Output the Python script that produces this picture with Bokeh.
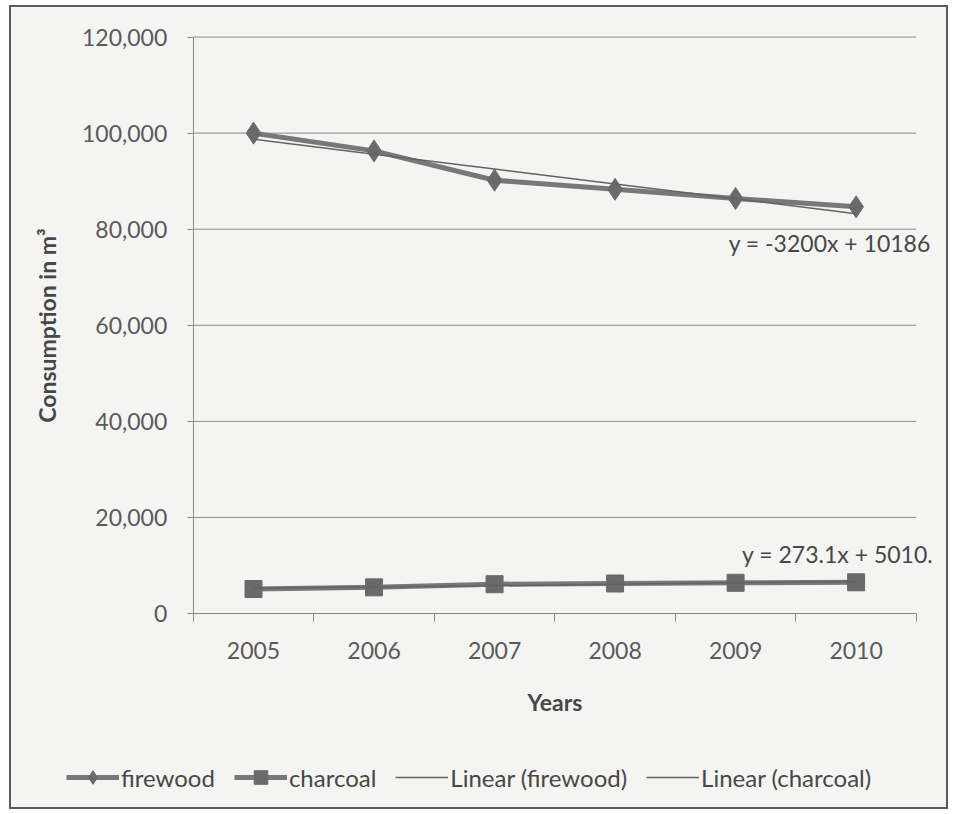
import numpy as np
from bokeh.plotting import figure
from bokeh.models import FixedTicker, Legend, LegendItem, Label, NumeralTickFormatter, Range1d
from bokeh.embed import file_html
from bokeh.resources import INLINE

years = ["2005", "2006", "2007", "2008", "2009", "2010"]
firewood = [100000, 96300, 90200, 88300, 86400, 84650]
charcoal = [5100, 5450, 6100, 6250, 6400, 6500]
trend_labels = ["y = -3200x + 10186", "y = 273.1x + 5010."]
legend_labels = ["firewood", "charcoal", "Linear (firewood)", "Linear (charcoal)"]
y_ticks = [0, 20000, 40000, 60000, 80000, 100000, 120000]

FONT = "Lato"
FS = "23px"
BG = "#f4f4f2"
LINE = "#787878"
MARK = "#6a6a6a"
TREND = "#636363"
TXT = "#474747"

xs = list(range(1, len(years) + 1))
x_lo, x_hi = 0.5, len(years) + 0.5

# Layout geometry (pixels inside the bordered figure)
W, H = 939, 804                 # outer size incl. 2px border
FRAME_W, FRAME_H = W - 4, H - 4
PX_X = 120.0                    # pixels per category
PX_Y = 4.78 / 1000              # pixels per m3
AXIS_X_PX = 181                 # y-axis position from frame left
AXIS_Y_PX = 603                 # y=0 position from frame top

x_start = x_lo - AXIS_X_PX / PX_X
x_end = x_start + FRAME_W / PX_X
y_end = AXIS_Y_PX / PX_Y
y_start = y_end - FRAME_H / PX_Y

p = figure(width=W, height=H, output_backend="svg", toolbar_location=None,
           x_range=Range1d(x_start, x_end), y_range=Range1d(y_start, y_end),
           min_border_left=0, min_border_right=0, min_border_top=0, min_border_bottom=0)
p.background_fill_color = BG
p.border_fill_color = BG
p.outline_line_color = None
p.styles = {"border": "2px solid #5a5a5a", "margin-left": "9px", "margin-top": "5px"}

# x axis (category style: labels at centers, ticks at boundaries)
p.xaxis.fixed_location = 0
p.xaxis.bounds = (x_lo, x_hi)
p.xaxis.ticker = FixedTicker(ticks=xs, minor_ticks=[x - 0.5 for x in xs] + [x_hi])
p.xaxis.major_label_overrides = {x: y for x, y in zip(xs, years)}
p.xaxis.major_tick_line_color = None
p.xaxis.major_tick_out = 0
p.xaxis.major_tick_in = 0
p.xaxis.minor_tick_out = 8
p.xaxis.minor_tick_in = 0
p.xaxis.minor_tick_line_color = "#888888"
p.xaxis.major_label_standoff = 20
p.xaxis.axis_label = "Years"
p.xaxis.axis_label_standoff = 26

p.yaxis.fixed_location = x_lo
p.yaxis.bounds = (y_ticks[0], y_ticks[-1])
p.yaxis.ticker = FixedTicker(ticks=y_ticks, minor_ticks=[])
p.yaxis.formatter = NumeralTickFormatter(format="0,0")
p.yaxis.major_tick_out = 6
p.yaxis.major_tick_in = 0
p.yaxis.major_tick_line_color = "#888888"
p.yaxis.major_label_standoff = 20
p.yaxis.axis_label = "Consumption in m³"
p.yaxis.axis_label_standoff = 18

for ax in (p.xaxis, p.yaxis):
    ax.axis_line_color = "#888888"
    ax.major_label_text_font = FONT
    ax.major_label_text_font_size = FS
    ax.major_label_text_color = "#5a5a5a"
    ax.axis_label_text_font = FONT
    ax.axis_label_text_font_size = FS
    ax.axis_label_text_font_style = "bold"
    ax.axis_label_text_color = TXT

# horizontal gridlines limited to the category span
p.xgrid.grid_line_color = None
p.ygrid.grid_line_color = None
p.segment(x0=[x_lo] * len(y_ticks), x1=[x_hi] * len(y_ticks), y0=y_ticks, y1=y_ticks,
          line_color="#8c8c8c", line_width=1)

def fit(vals):
    k, b = np.polyfit(xs, vals, 1)
    return [k * x + b for x in xs]

fw_line = p.line(xs, firewood, line_color=LINE, line_width=5)
fw_mark = p.scatter(xs, firewood, marker="diamond", size=22, fill_color=MARK, line_color=MARK)
ch_line = p.line(xs, charcoal, line_color=LINE, line_width=5)
ch_mark = p.scatter(xs, charcoal, marker="square", size=17, fill_color=MARK, line_color=MARK)
fw_trend = p.line(xs, fit(firewood), line_color=TREND, line_width=1.5)
ch_trend = p.line(xs, fit(charcoal), line_color=TREND, line_width=1.5)

p.add_layout(Label(x=x_hi + 0.12, y=77100, text=trend_labels[0], text_align="right", text_baseline="middle",
                   text_font=FONT, text_font_size=FS, text_color=TXT))
p.add_layout(Label(x=x_hi + 0.14, y=12300, text=trend_labels[1], text_align="right", text_baseline="middle",
                   text_font=FONT, text_font_size=FS, text_color=TXT))

renderers = [[fw_line, fw_mark], [ch_line, ch_mark], [fw_trend], [ch_trend]]
legend = Legend(items=[LegendItem(label=l, renderers=r) for l, r in zip(legend_labels, renderers)],
                orientation="horizontal", location=(55, 17))
legend.label_text_font = FONT
legend.label_text_font_size = "24px"
legend.label_text_color = TXT
legend.glyph_width = 53
legend.glyph_height = 34
legend.label_standoff = 2
legend.spacing = 19
legend.background_fill_alpha = 0
legend.border_line_color = None
p.add_layout(legend, "center")

open("out.html", "w").write(file_html(p, INLINE))
